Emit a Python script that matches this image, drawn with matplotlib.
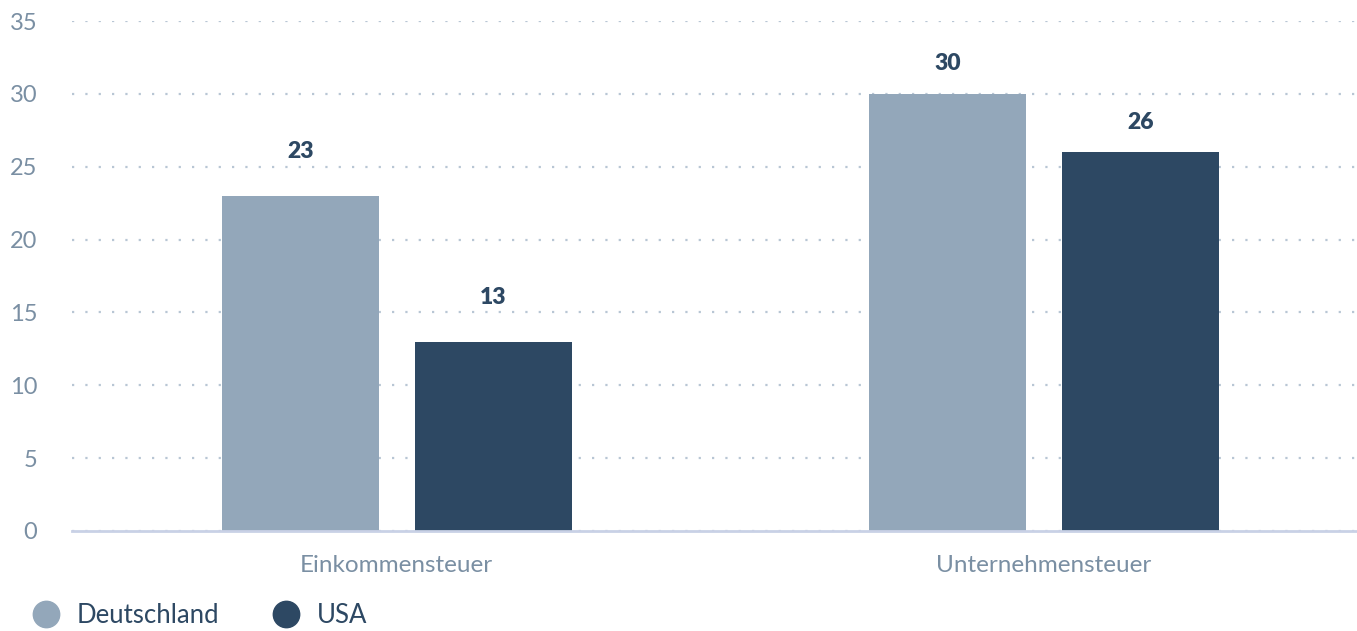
import numpy as np
from matplotlib import pyplot as plt
from matplotlib.lines import Line2D

categories = ["Einkommensteuer", "Unternehmensteuer"]
series = ["Deutschland", "USA"]
deutschland = [23, 30]
usa = [13, 26]
yticks = [0, 5, 10, 15, 20, 25, 30, 35]

colors = ["#93a7ba", "#2d4863"]
plt.rcParams["font.family"] = ["Lato", "DejaVu Sans"]

fig = plt.figure(figsize=(13.57, 6.31), dpi=100)
ax = fig.add_axes([0.053, 0.1585, 0.947, 0.8082])

x = np.arange(len(categories))
width = 0.243
offset = 0.149
label_off = [44, 30]  # px above bar top, per group

for i, (vals, col) in enumerate(zip([deutschland, usa], colors)):
    pos = x + (2 * i - 1) * offset
    ax.bar(pos, vals, width=width, color=col, zorder=3)
    for j, (p, v) in enumerate(zip(pos, vals)):
        ax.annotate(str(v), (p, v), xytext=(0, label_off[j] * 0.72),
                    textcoords="offset points", ha="center", va="center",
                    fontsize=16.5, fontweight="heavy", color="#2d4863")

ax.set_xlim(-0.502, 1.484)
ax.set_ylim(0, 35)
ax.set_yticks(yticks)
ax.set_xticks(x)
ax.set_xticklabels(categories)
ax.tick_params(axis="y", length=0, pad=25, labelsize=17, labelcolor="#7a8fa3")
ax.tick_params(axis="x", length=0, pad=17, labelsize=17.5, labelcolor="#7a8fa3")
for lab in ax.get_yticklabels():
    lab.set_horizontalalignment("right")

ax.yaxis.grid(True, linestyle=(0, (1, 5)), color="#b8c6d4", linewidth=1.6, zorder=0)
for s in ["top", "right", "left"]:
    ax.spines[s].set_visible(False)
ax.spines["bottom"].set_color("#c9d1e6")
ax.spines["bottom"].set_linewidth(2)
ax.spines["bottom"].set_zorder(4)

handles = [Line2D([], [], marker="o", linestyle="", markersize=19, color=c) for c in colors]
fig.legend(handles, series, loc="center left", bbox_to_anchor=(0.015, 0.025), ncol=2,
           frameon=False, fontsize=18.5, labelcolor="#2d4863", handletextpad=0.2,
           columnspacing=1.6, borderaxespad=0, borderpad=0)

fig.savefig("out.png", dpi=100)
